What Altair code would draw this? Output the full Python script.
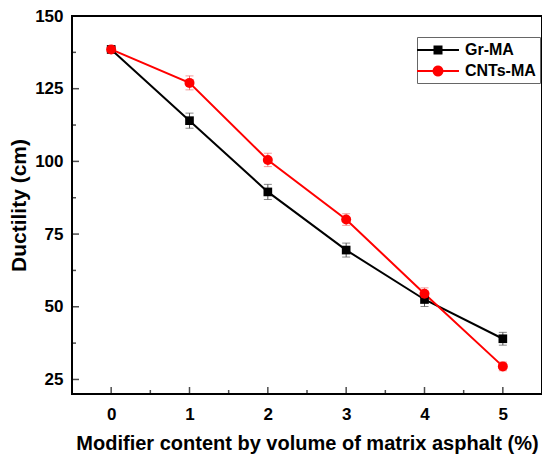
import altair as alt
import pandas as pd

content = [0, 1, 2, 3, 4, 5]
gr_ma = [138.5, 114.0, 89.5, 69.5, 52.5, 39.0]
gr_err = [1.0, 2.6, 2.6, 2.4, 2.4, 2.2]
cnt_ma = [138.5, 127.0, 100.5, 80.0, 54.5, 29.5]
cnt_err = [1.0, 2.4, 2.3, 2.0, 2.0, 1.5]
series_names = ["Gr-MA", "CNTs-MA"]
series_colors = ["#000000", "#ff0000"]
err_colors = ["#555555", "#f07070"]

x_major = [0, 1, 2, 3, 4, 5]
x_minor = [0.5, 1.5, 2.5, 3.5, 4.5]
y_major = [25, 50, 75, 100, 125, 150]
y_minor = [37.5, 62.5, 87.5, 112.5, 137.5]

FONT = "Liberation Sans"

rows = []
for name, vals, errs in [("Gr-MA", gr_ma, gr_err), ("CNTs-MA", cnt_ma, cnt_err)]:
    for x, v, e in zip(content, vals, errs):
        rows.append({"x": x, "y": v, "err": e, "series": name})
df = pd.DataFrame(rows)

xs = alt.Scale(domain=[-0.5, 5.5], nice=False, zero=False)
ys = alt.Scale(domain=[20, 150], nice=False, zero=False)


def cscale():
    return alt.Scale(domain=series_names, range=series_colors)


X = alt.X("x:Q", scale=xs, axis=alt.Axis(
    values=x_major, format="d", title="Modifier content by volume of matrix asphalt (%)",
    tickSize=0, labelPadding=12, titlePadding=11, grid=False, domain=False,
    labelFont=FONT, labelFontSize=17, labelFontWeight="bold", labelColor="black",
    titleFont=FONT, titleFontSize=20, titleFontWeight="bold", titleColor="black"))
Y = alt.Y("y:Q", scale=ys, axis=alt.Axis(
    values=y_major, title="Ductility (cm)",
    tickSize=0, labelPadding=9, titlePadding=5, grid=False, domain=False,
    labelFont=FONT, labelFontSize=17, labelFontWeight="bold", labelColor="black",
    titleFont=FONT, titleFontSize=21, titleFontWeight="bold", titleColor="black"))

base = alt.Chart(df)

errs = base.transform_calculate(lo="datum.y - datum.err", hi="datum.y + datum.err")
err_color = alt.Color("series:N", scale=alt.Scale(domain=series_names, range=err_colors), legend=None)
err_rule = errs.mark_rule(strokeWidth=1).encode(
    x=alt.X("x:Q", scale=xs), y=alt.Y("lo:Q", scale=ys), y2="hi:Q", color=err_color)
cap_lo = errs.mark_tick(orient="horizontal", size=8, thickness=1).encode(
    x=alt.X("x:Q", scale=xs), y=alt.Y("lo:Q", scale=ys), color=err_color)
cap_hi = errs.mark_tick(orient="horizontal", size=8, thickness=1).encode(
    x=alt.X("x:Q", scale=xs), y=alt.Y("hi:Q", scale=ys), color=err_color)

lines = base.mark_line(strokeWidth=2).encode(
    x=X, y=Y, color=alt.Color("series:N", scale=cscale(), legend=None))
points = base.mark_point(filled=True, opacity=1).encode(
    x=alt.X("x:Q", scale=xs), y=alt.Y("y:Q", scale=ys),
    color=alt.Color("series:N", scale=cscale(), legend=None),
    shape=alt.Shape("series:N", scale=alt.Scale(domain=series_names, range=["square", "circle"]), legend=None),
    size=alt.Size("series:N", scale=alt.Scale(domain=series_names, range=[75, 100]), legend=None))

sq_path = "M-2.33,-0.11H-0.5V-0.5H0.5V-0.11H2.33V0.11H0.5V0.5H-0.5V0.11H-2.33Z"
ci_path = ("M-2.33,-0.11H-0.6A0.61,0.61 0 0 1 0.6,-0.11H2.33V0.11H0.6"
           "A0.61,0.61 0 0 1 -0.6,0.11H-2.33Z")
leg_df = pd.DataFrame({"series": series_names, "lx": [None, None], "ly": [None, None]})
legend_layer = alt.Chart(leg_df).mark_point(filled=True, opacity=1).encode(
    x=alt.X("lx:Q", scale=xs), y=alt.Y("ly:Q", scale=ys),
    color=alt.Color("series:N", scale=cscale(), legend=alt.Legend(
        title=None, orient="none", legendX=345, legendY=21,
        padding=4, rowPadding=4, strokeColor="#666666", fillColor="white",
        symbolSize=324, symbolStrokeWidth=0, symbolOffset=8, labelOffset=18,
        labelFont=FONT, labelFontSize=16, labelFontWeight="bold", labelColor="black")),
    shape=alt.Shape("series:N", scale=alt.Scale(domain=series_names, range=[sq_path, ci_path])))

xt_major = alt.Chart(pd.DataFrame({"t": x_major})).mark_tick(
    orient="vertical", size=7, thickness=1.5, color="black", yOffset=-3.5).encode(
    x=alt.X("t:Q", scale=xs), y=alt.datum(20, scale=ys))
xt_minor = alt.Chart(pd.DataFrame({"t": x_minor})).mark_tick(
    orient="vertical", size=4, thickness=1.5, color="black", yOffset=-2).encode(
    x=alt.X("t:Q", scale=xs), y=alt.datum(20, scale=ys))
yt_major = alt.Chart(pd.DataFrame({"t": y_major})).mark_tick(
    orient="horizontal", size=7, thickness=1.5, color="black", xOffset=3.5).encode(
    y=alt.Y("t:Q", scale=ys), x=alt.datum(-0.5, scale=xs))
yt_minor = alt.Chart(pd.DataFrame({"t": y_minor})).mark_tick(
    orient="horizontal", size=4, thickness=1.5, color="black", xOffset=2).encode(
    y=alt.Y("t:Q", scale=ys), x=alt.datum(-0.5, scale=xs))

chart = alt.layer(
    lines, err_rule, cap_lo, cap_hi, points, legend_layer,
    xt_major, xt_minor, yt_major, yt_minor
).resolve_scale(color="independent", shape="independent", size="independent").properties(
    width=470, height=378,
    autosize=alt.AutoSizeParams(type="none"),
    padding={"left": 64, "top": 8, "right": 0, "bottom": 63},
    background="white",
).configure_view(stroke="black", strokeWidth=2)

chart.save("out.html", embed_options={"renderer": "svg", "actions": False})
